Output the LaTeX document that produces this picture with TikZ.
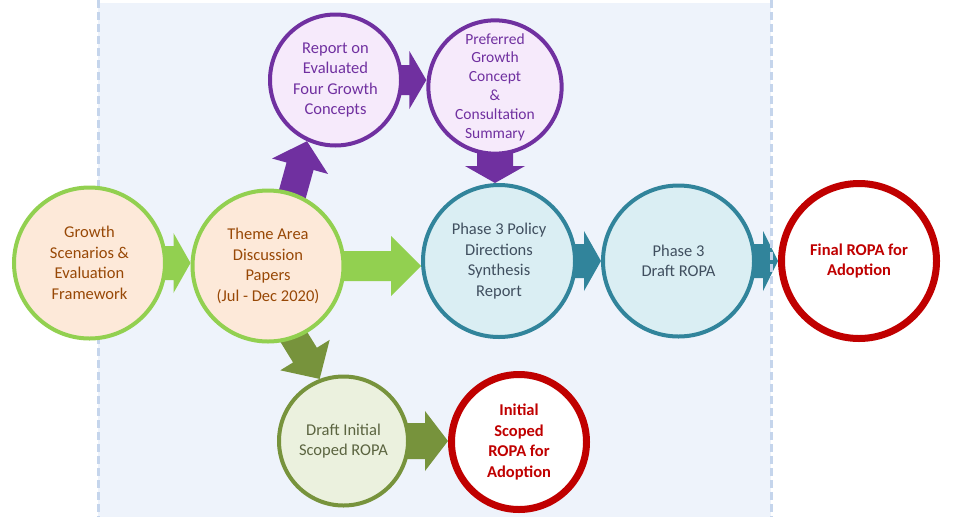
\documentclass[tikz,border=0pt]{standalone}
\usepackage{fontspec}
\setmainfont{Carlito}
\usetikzlibrary{calc}
\pgfdeclarelayer{background}
\pgfsetlayers{background,main}
\definecolor{panelbg}{HTML}{EEF3FB}
\definecolor{dashc}{HTML}{C5D5EC}
\definecolor{grn}{HTML}{92D050}
\definecolor{peach}{HTML}{FDE9D9}
\definecolor{brn}{HTML}{984806}
\definecolor{purp}{HTML}{7030A0}
\definecolor{lav}{HTML}{F6EAFB}
\definecolor{teal}{HTML}{31849B}
\definecolor{tealfill}{HTML}{DAEEF3}
\definecolor{tealtxt}{HTML}{404F5F}
\definecolor{olive}{HTML}{77933C}
\definecolor{olivefill}{HTML}{EBF1DE}
\definecolor{olivetxt}{HTML}{5B6440}
\definecolor{redc}{HTML}{C00000}
\newcommand{\blockarrow}[6]{% color, from, to, shaft half, head half, head length
  \coordinate (ba-h) at ($(#3)!#6!(#2)$);
  \fill[#1] ($(#2)!#4!90:(#3)$) -- ($(ba-h)!#4!-90:(#2)$) -- ($(ba-h)!#5!-90:(#2)$) -- (#3)
    -- ($(ba-h)!#5!90:(#2)$) -- ($(ba-h)!#4!90:(#2)$) -- ($(#2)!#4!-90:(#3)$) -- cycle;
}
\tikzset{
  bubble/.style={circle, inner sep=0pt, align=center, line width=4pt,
    font=\fontsize{16.5}{20.5}\selectfont},
  greenc/.style={bubble, draw=grn, fill=peach, text=brn},
  purpc/.style={bubble, draw=purp, fill=lav, text=purp},
  tealc/.style={bubble, draw=teal, fill=tealfill, text=tealtxt},
  olivec/.style={bubble, draw=olive, fill=olivefill, text=olivetxt},
  redcirc/.style={bubble, draw=redc, fill=white, text=redc, line width=7pt,
    font=\fontsize{16.5}{20.5}\selectfont\bfseries},
  dashln/.style={dashc, line width=3pt, dash pattern=on 8pt off 4pt}
}
\begin{document}
\begin{tikzpicture}[x=1pt,y=-1pt]
\useasboundingbox (0,0) rectangle (957,517);
\begin{pgfonlayer}{background}
  \fill[panelbg] (98,3) rectangle (771,517);
\end{pgfonlayer}
\draw[dashln] (98,0) -- (98,517);
\draw[dashln] (771,0) -- (771,517);

\node[greenc, minimum size=151pt] (c1) at (89.5,263) {Growth\\Scenarios \&\\Evaluation\\Framework};
\node[greenc, minimum size=151pt] (c2) at (268,266) {Theme Area\\Discussion\\Papers\\(Jul - Dec 2020)};
\node[purpc, minimum size=131pt] (c3) at (335.5,80) {Report on\\Evaluated\\Four Growth\\Concepts};
\node[purpc, minimum size=132pt, font=\fontsize{15.5}{18.8}\selectfont] (c4) at (495,87) {Preferred\\Growth\\Concept\\\&\\Consultation\\Summary};
\node[tealc, minimum size=152pt] (c5) at (499,261) {Phase 3 Policy\\Directions\\Synthesis\\Report};
\node[tealc, minimum size=151pt] (c6) at (678.5,261) {Phase 3\\Draft ROPA};
\node[redcirc, minimum size=155pt] (c7) at (859,261) {Final ROPA for\\Adoption};
\node[olivec, minimum size=129pt] (c8) at (343.5,441) {Draft Initial\\Scoped ROPA};
\node[redcirc, minimum size=135pt] (c9) at (519,442) {Initial\\Scoped\\ROPA for\\Adoption};

\begin{pgfonlayer}{background}
  \blockarrow{grn}{$(c1)!0.9!(c1.east)$}{c2.west |- c1.east}{17pt}{30pt}{17pt}
  \blockarrow{grn}{$(c2)!0.9!(c2.east)$}{c5.west |- c2.east}{15pt}{30pt}{30pt}
  \blockarrow{purp}{$(c2)!0.9!(c2.71)$}{c3.245}{14pt}{29pt}{26pt}
  \blockarrow{purp}{$(c3)!0.9!(c3.east)$}{c4.west |- c3.east}{15pt}{29pt}{17pt}
  \blockarrow{purp}{$(c4)!0.9!(c4.south)$}{c4.south |- c5.north}{18pt}{30pt}{17pt}
  \blockarrow{teal}{$(c5)!0.9!(c5.east)$}{c6.west}{17pt}{30pt}{17pt}
  \blockarrow{teal}{$(c6)!0.9!(c6.east)$}{c7.west}{17pt}{30pt}{15pt}
  \blockarrow{olive}{$(c2)!0.9!(c2.289)$}{c8.111}{14pt}{29pt}{28pt}
  \blockarrow{olive}{$(c8)!0.9!(c8.east)$}{c9.west |- c8.east}{18pt}{30pt}{23pt}
\end{pgfonlayer}
\end{tikzpicture}
\end{document}
